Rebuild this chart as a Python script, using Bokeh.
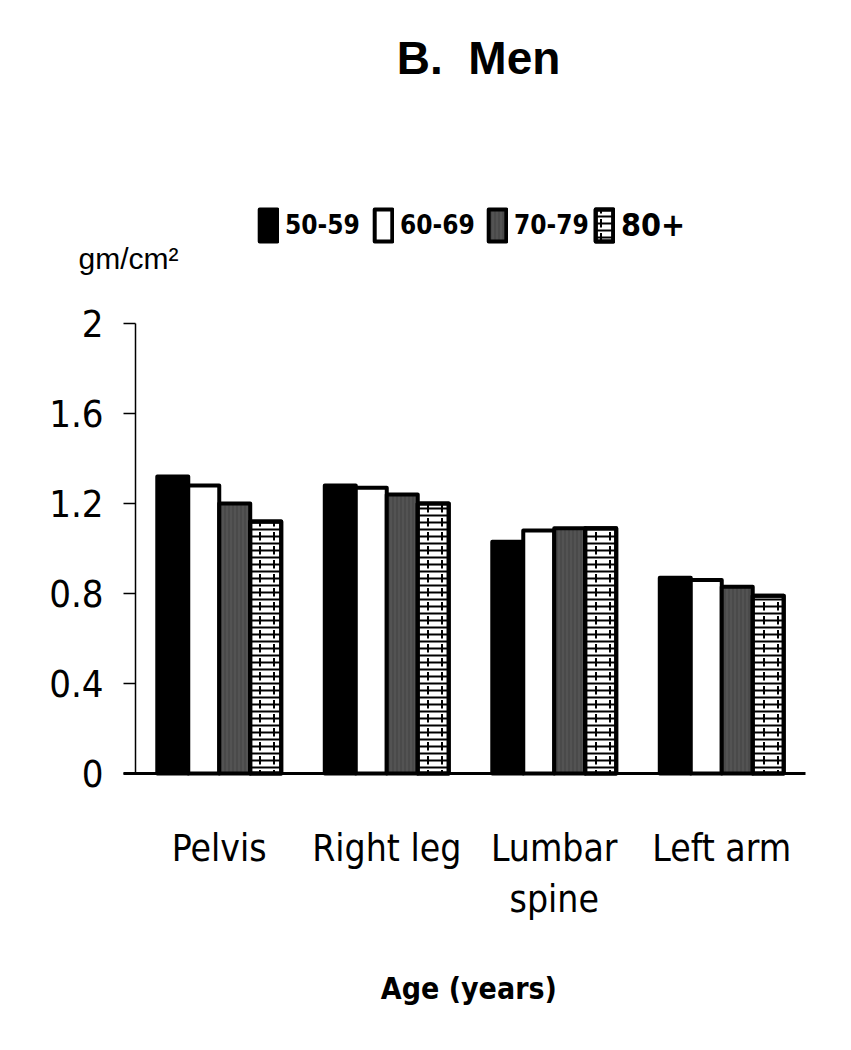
from bokeh.plotting import figure
from bokeh.models import (ColumnDataSource, Range1d, FixedTicker, Label, Legend, LegendItem, LinearAxis)
from bokeh.transform import dodge
from bokeh.embed import file_html
from bokeh.resources import INLINE

# ---- data ----
regions = ["Pelvis", "Right leg", "Lumbar\nspine", "Left arm"]
age_groups = ["50-59", "60-69", "70-79", "80+"]
v_50_59 = [1.32, 1.28, 1.03, 0.87]
v_60_69 = [1.28, 1.27, 1.08, 0.86]
v_70_79 = [1.20, 1.24, 1.09, 0.83]
v_80p = [1.12, 1.20, 1.09, 0.79]
y_ticks = [0, 0.4, 0.8, 1.2, 1.6, 2.0]
y_tick_labels = ["0", "0.4", "0.8", "1.2", "1.6", "2"]

NARROW = "DejaVu Sans Condensed, Liberation Sans, sans-serif"
SANS = "Liberation Sans"

# category slots on a numeric scale: category i occupies [i, i+1]
x_pos = [i + 0.5 for i in range(len(regions))]
src = ColumnDataSource(dict(x=x_pos, a=v_50_59, b=v_60_69, c=v_70_79, d=v_80p))

W, H = 835, 1034
PX_X, PX_Y = 167.5, 225.0      # pixels per unit
X0_PX, Y0_PX = 135.0, 773.0    # where (0, 0) sits
x_start = -X0_PX / PX_X
y_end = Y0_PX / PX_Y
p = figure(width=W, height=H,
           x_range=Range1d(x_start, x_start + W / PX_X),
           y_range=Range1d(y_end - H / PX_Y, y_end),
           x_axis_location=None, y_axis_location=None,
           output_backend="svg", toolbar_location=None,
           min_border=0)
p.outline_line_color = None
p.grid.grid_line_color = None

bw = 0.185
offs = [-1.5 * bw, -0.5 * bw, 0.5 * bw, 1.5 * bw]
common = dict(width=bw, source=src, line_color="black", line_width=4, line_join="round")

r1 = p.vbar(x=dodge("x", offs[0]), top="a", fill_color="black", **common)
r2 = p.vbar(x=dodge("x", offs[1]), top="b", fill_color="white", **common)
r3 = p.vbar(x=dodge("x", offs[2]), top="c", fill_color="#4a4a4a",
            hatch_pattern="vertical_line", hatch_color="#5c5c5c", hatch_scale=4, hatch_weight=1, **common)
r4 = p.vbar(x=dodge("x", offs[3]), top="d", fill_color="white",
            hatch_pattern="horizontal_line", hatch_color="black", hatch_scale=7, hatch_weight=2, **common)
r4b = p.vbar(x=dodge("x", offs[3]), top="d", width=bw, source=src,
             fill_alpha=0, line_color="black", line_width=4, line_join="round",
             hatch_pattern="vertical_dash", hatch_color="black", hatch_scale=14, hatch_weight=2)

# axes (fixed at the data origin)
ya = LinearAxis(fixed_location=0, bounds=(0, 2))
ya.ticker = FixedTicker(ticks=y_ticks)
ya.major_label_overrides = {t: l for t, l in zip(y_ticks, y_tick_labels)}
ya.major_label_text_font = NARROW
ya.major_label_text_font_size = "38px"
ya.major_label_text_color = "black"
ya.major_tick_out = 12
ya.major_tick_in = 0
ya.minor_tick_line_color = None
ya.axis_line_width = 1.5
ya.major_tick_line_width = 1.5
ya.major_label_standoff = 20
p.add_layout(ya, "left")

xa = LinearAxis(fixed_location=0, bounds=(-12 / PX_X, len(regions)))
xa.ticker = FixedTicker(ticks=x_pos)
xa.major_label_overrides = {t: l for t, l in zip(x_pos, regions)}
xa.major_tick_line_color = None
xa.minor_tick_line_color = None
xa.axis_line_width = 3
xa.major_label_text_font = NARROW
xa.major_label_text_font_size = "37px"
xa.major_label_text_color = "black"
xa.major_label_standoff = 47
p.add_layout(xa, "below")

# legend: one small legend per entry, placed where the reference shows it
leg_x = [257, 372, 486, 593]
leg_fs = ["26px", "26px", "26px", "32px"]
leg_r = [[r1], [r2], [r3], [r4, r4b]]
for lab, lx, fs, rr in zip(age_groups, leg_x, leg_fs, leg_r):
    lg = Legend(items=[LegendItem(label=lab, renderers=rr)],
                orientation="horizontal", location=(lx, H - 245))
    lg.glyph_width = 22
    lg.glyph_height = 40
    lg.label_text_font = NARROW
    lg.label_text_font_style = "bold"
    lg.label_text_font_size = fs
    lg.label_text_color = "black"
    lg.label_standoff = 6
    lg.padding = 0
    lg.margin = 0
    lg.border_line_color = None
    lg.background_fill_alpha = 0
    lg.label_height = 40
    p.add_layout(lg, "center")

# free texts (positions in data units of this chart)
p.add_layout(Label(x=2.048, y=3.178, text="B.\u00a0 Men", text_font=SANS, text_font_style="bold",
                   text_font_size="46px", text_align="center", text_baseline="middle",
                   text_color="black"))
p.add_layout(Label(x=-0.34, y=2.289, text="gm/cm²", text_font=SANS,
                   text_font_size="30px", text_align="left", text_baseline="middle",
                   text_color="black"))
p.add_layout(Label(x=1.99, y=-0.956, text="Age (years)", text_font=NARROW, text_font_style="bold",
                   text_font_size="30px", text_align="center", text_baseline="middle",
                   text_color="black"))

open("out.html", "w").write(file_html(p, INLINE))
